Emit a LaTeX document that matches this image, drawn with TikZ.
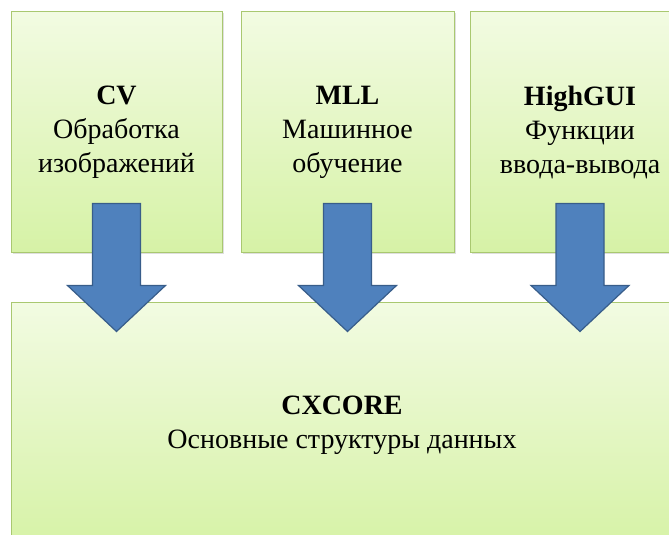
\documentclass[tikz,border=0pt]{standalone}
\usepackage{fontspec}
\setmainfont{Liberation Serif}
\usepackage{tikz}
\usetikzlibrary{positioning,calc,shadows}
\definecolor{boxtop}{HTML}{F2FBE2}
\definecolor{boxbottom}{HTML}{D6F2A6}
\definecolor{boxline}{HTML}{A9C870}
\definecolor{arrowfill}{HTML}{4F81BD}
\definecolor{arrowline}{HTML}{385D8A}
% block arrow from box #1 down into box #2
\newcommand{\BlockArrow}[2]{%
	\path[bigarrow]
	($(#1.south)+(-24,-49)$) -- ($(#1.south)+(24,-49)$) -- ($(#1.south)+(24,33)$) -- ($(#1.south)+(49,33)$)
	-- ($(#1.south |- #2.north)+(0,30)$)
	-- ($(#1.south)+(-49,33)$) -- ($(#1.south)+(-24,33)$) -- cycle;
}

\begin{document}
\begin{tikzpicture}[x=1pt,y=-1pt,% List of styles applied to all
			every node/.style={
				align=center,  		% use this so that the "\\" for line break works
				font=\fontsize{28}{34}\selectfont
			},
			module/.style={
				rectangle,draw=boxline,line width=1pt,
				top color=boxtop,bottom color=boxbottom,
				drop shadow={shadow xshift=1.5pt,shadow yshift=-1.5pt,opacity=.25},
				minimum width=211pt,minimum height=240pt
			},
			bigarrow/.style={draw=arrowline,line width=1.2pt,fill=arrowfill,line join=miter}
		]
		\clip (0,0) rectangle (669,535);
		\node[module](R1) at (116.5,132) {\textbf{CV}\\ Обработка\\ изображений};
		\node[module,minimum width=213pt](R2)[right=18pt of R1]{\textbf{MLL}\\ Машинное\\ обучение};
		\node[module,minimum width=220pt](R3)[right=15pt of R2]{\textbf{HighGUI}\\ Функции\\ ввода-вывода};
		\node[module,minimum width=662pt,minimum height=246pt](R4) at (342,425) {\textbf{CXCORE}\\ Основные структуры данных};
		\BlockArrow{R1}{R4}
		\BlockArrow{R2}{R4}
		\BlockArrow{R3}{R4}
	\end{tikzpicture}
\end{document}
